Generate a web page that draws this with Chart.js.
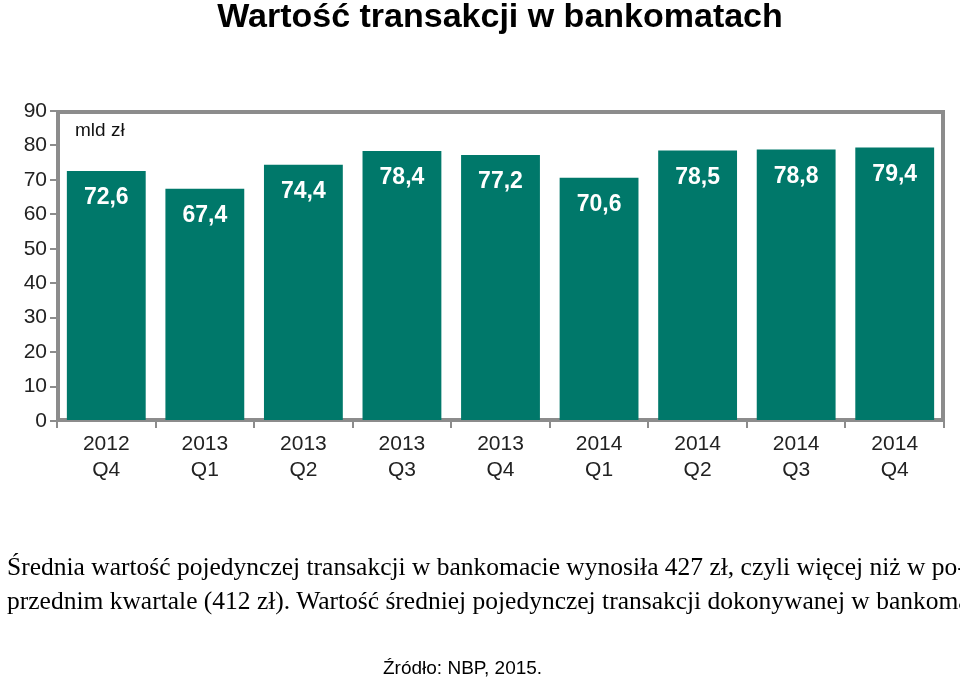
<!DOCTYPE html>
<html><head><meta charset="utf-8">
<script src="https://cdn.jsdelivr.net/npm/chart.js@4"></script>
<style>
body{margin:0;width:960px;height:680px;position:relative;background:#fff;overflow:hidden}
#c{position:absolute;left:0;top:0}
.t{position:absolute;white-space:nowrap}
</style></head><body>
<canvas id="c" width="960" height="680"></canvas>
<div class="t" style="left:0;width:1000px;top:-4px;text-align:center;font:bold 34px 'Liberation Sans',Arial;">Wartość transakcji w bankomatach</div>
<div class="t" style="left:7px;top:552px;font:25.5px 'Liberation Serif',serif;">Średnia wartość pojedynczej transakcji w bankomacie wynosiła 427 zł, czyli więcej niż w po-</div>
<div class="t" style="left:7px;top:586px;font:25.5px 'Liberation Serif',serif;">przednim kwartale (412 zł). Wartość średniej pojedynczej transakcji dokonywanej w bankomacie</div>
<div class="t" style="left:383px;top:657px;font:19px 'Liberation Sans',Arial,sans-serif;">Źródło: NBP, 2015.</div>
<script>
const categories=[["2012","Q4"],["2013","Q1"],["2013","Q2"],["2013","Q3"],["2013","Q4"],["2014","Q1"],["2014","Q2"],["2014","Q3"],["2014","Q4"]];
const values=[72.6,67.4,74.4,78.4,77.2,70.6,78.5,78.8,79.4];
const yTicks=[0,10,20,30,40,50,60,70,80,90];
const unitLabel="mld zł";
const fmt=v=>v.toFixed(1).replace('.',',');
const deco={id:'deco',
 beforeDatasetsDraw(ch){const a=ch.chartArea,c=ch.ctx;c.save();c.strokeStyle='#8c8c8c';c.lineWidth=4;
  c.strokeRect(a.left+1,a.top+1,a.right-a.left-2,a.bottom-a.top-2);c.restore();},
 afterDatasetsDraw(ch){const c=ch.ctx,m=ch.getDatasetMeta(0);c.save();c.fillStyle='#fff';c.font='bold 23px "Liberation Sans",Arial';c.textAlign='center';c.textBaseline='middle';
  m.data.forEach((b,i)=>c.fillText(fmt(values[i]),b.x,b.y+27));
  c.fillStyle='#111';c.font='19px "Liberation Sans",Arial';c.textAlign='left';c.fillText(unitLabel,ch.chartArea.left+18,131);c.restore();}};
new Chart(document.getElementById('c'),{type:'bar',
 data:{labels:categories,datasets:[{data:values,backgroundColor:'#00786a',barPercentage:0.8,categoryPercentage:1}]},
 options:{responsive:false,animation:false,layout:{padding:{left:0,right:16,top:111,bottom:0}},
  plugins:{legend:{display:false},tooltip:{enabled:false}},
  scales:{
   x:{afterFit(s){s.height=259;},grid:{offset:true,drawOnChartArea:false,tickLength:7,color:'#8c8c8c',lineWidth:2},border:{display:false},
      ticks:{color:'#222',font:{size:21,family:'"Liberation Sans",Arial'},padding:4}},
   y:{min:0,max:90,afterFit(s){s.width=57;},afterBuildTicks(s){s.ticks=yTicks.map(v=>({value:v}));},
      grid:{drawOnChartArea:false,tickLength:7,color:'#8c8c8c',lineWidth:2},border:{display:false},
      ticks:{color:'#222',font:{size:21,family:'"Liberation Sans",Arial'},padding:3}}}},
 plugins:[deco]});
</script></body></html>
